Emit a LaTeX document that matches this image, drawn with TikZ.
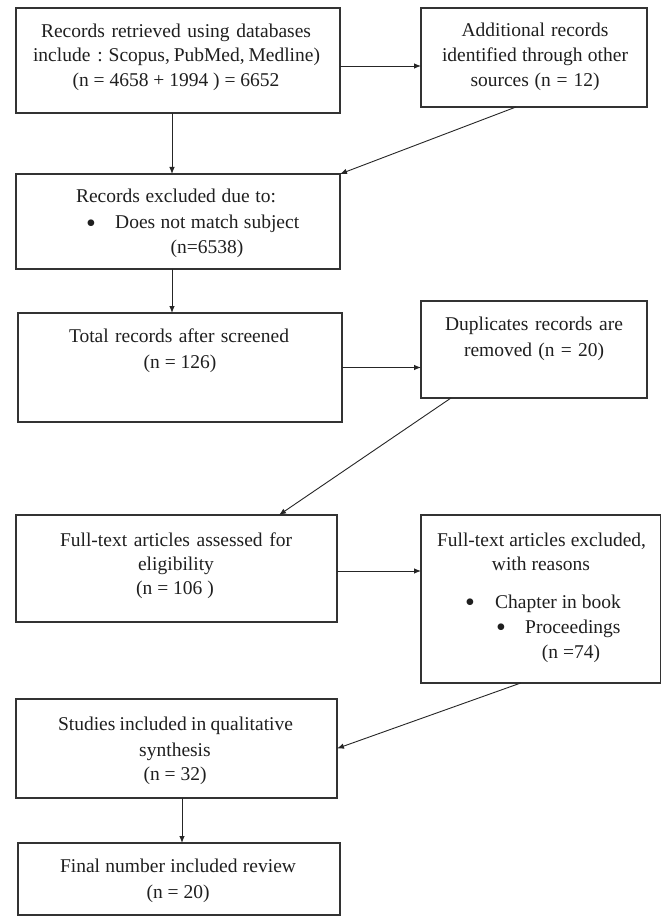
\documentclass[tikz,border=0pt]{standalone}
\usepackage{fontspec}
\setmainfont{Liberation Serif}
\usetikzlibrary{arrows.meta}
\newcommand{\bigbul}{\raisebox{-3.5pt}{\fontsize{28}{25}\selectfont\textbullet}}
\begin{document}
\begin{tikzpicture}[x=1pt,y=-1pt,
 box/.style={draw=black!80, line width=1.3pt, inner sep=0pt, outer sep=0pt},
 txt/.style={anchor=base, inner sep=0pt, font=\fontsize{19.5}{25}\selectfont, text=black!88},
 txtl/.style={txt, anchor=base west},
 arr/.style={draw=black!85, line width=0.9pt, -{Latex[length=7pt,width=5.5pt]}}]
\useasboundingbox (0,0) rectangle (662,917);
\fill[white] (0,0) rectangle (662,917);
% boxes
\node[box, minimum width=324pt, minimum height=105pt] (A) at (178,60.5) {};
\node[box, minimum width=226pt, minimum height=99pt] (B) at (534,57.5) {};
\node[box, minimum width=324pt, minimum height=95pt] (C) at (178,221.5) {};
\node[box, minimum width=324pt, minimum height=109pt] (D) at (180,367.5) {};
\node[box, minimum width=226pt, minimum height=97pt] (E) at (534,349.5) {};
\node[box, minimum width=321pt, minimum height=107pt] (F) at (176.5,568.5) {};
\node[box, minimum width=239.5pt, minimum height=168pt] (G) at (540.75,599) {};
\node[box, minimum width=321pt, minimum height=99pt] (H) at (176.5,748.5) {};
\node[box, minimum width=322pt, minimum height=72pt] (I) at (179,879) {};
% texts
\node[txt] (a1) at (176,38) {\makebox[270pt][s]{Records retrieved using databases}};
\node[txt] (a2) at (176.5,62) {\makebox[287pt][s]{include \ : Scopus, PubMed, Medline)}};
\node[txt] (a3) at (176,87) {(n = 4658 + 1994 ) = 6652};
\node[txt] (b1) at (535,37) {\makebox[147pt][s]{Additional records}};
\node[txt] (b2) at (535,62) {\makebox[186pt][s]{identified through other}};
\node[txt] (b3) at (535,87) {\makebox[129pt][s]{sources (n = 12)}};
\node[txt] (c1) at (176,203) {\makebox[200pt][s]{Records excluded due to:}};
\node[txtl] (c2) at (86,229) {\makebox[29pt][l]{\bigbul}\makebox[184pt][s]{Does not match subject}};
\node[txt] (c3) at (207,253) {(n=6538)};
\node[txt] (d1) at (179,342) {\makebox[220pt][s]{Total records after screened}};
\node[txt] (d2) at (180,368) {(n = 126)};
\node[txt] (e1) at (534,330) {\makebox[178pt][s]{Duplicates records are}};
\node[txt] (e2) at (534,356) {\makebox[140pt][s]{removed (n = 20)}};
\node[txt] (f1) at (176,546) {\makebox[232pt][s]{Full-text articles assessed for}};
\node[txt] (f2) at (176,570) {eligibility};
\node[txt] (f3) at (175,594) {(n = 106 )};
\node[txt] (g1) at (541.5,546) {\makebox[209pt][s]{Full-text articles excluded,}};
\node[txt] (g2) at (541,570) {with reasons};
\node[txtl] (g3) at (465,608) {\makebox[30pt][l]{\bigbul}Chapter in book};
\node[txtl] (g4) at (496,633) {\makebox[29pt][l]{\bigbul}Proceedings};
\node[txt] (g5) at (571,658) {(n =74)};
\node[txt] (h1) at (175.5,730) {\makebox[235pt][s]{Studies included in qualitative}};
\node[txt] (h2) at (175,756) {synthesis};
\node[txt] (h3) at (175,780) {(n = 32)};
\node[txt] (i1) at (178,872) {\makebox[236pt][s]{Final number included review}};
\node[txt] (i2) at (178,898) {(n = 20)};
% arrows
\draw[arr] ([yshift=-5.5pt]A.east) -- ([yshift=-5.5pt]A.east -| B.west);
\draw[arr] ([xshift=-6pt]A.south) -- ([xshift=-6pt]A.south |- C.north);
\draw[arr] ([xshift=-18pt]B.south) -- (C.north east);
\draw[arr] ([xshift=-6pt]C.south) -- ([xshift=-6pt]C.south |- D.north);
\draw[arr] (D.east) -- (D.east -| E.west);
\draw[arr] ([xshift=-83pt]E.south) -- ([xshift=102.5pt]F.north);
\draw[arr] ([yshift=-2.5pt]F.east) -- ([yshift=-2.5pt]F.east -| G.west);
\draw[arr] ([xshift=-20pt]G.south) -- (H.east);
\draw[arr] ([xshift=5.5pt]H.south) -- ([xshift=5.5pt]H.south |- I.north);
\end{tikzpicture}
\end{document}
